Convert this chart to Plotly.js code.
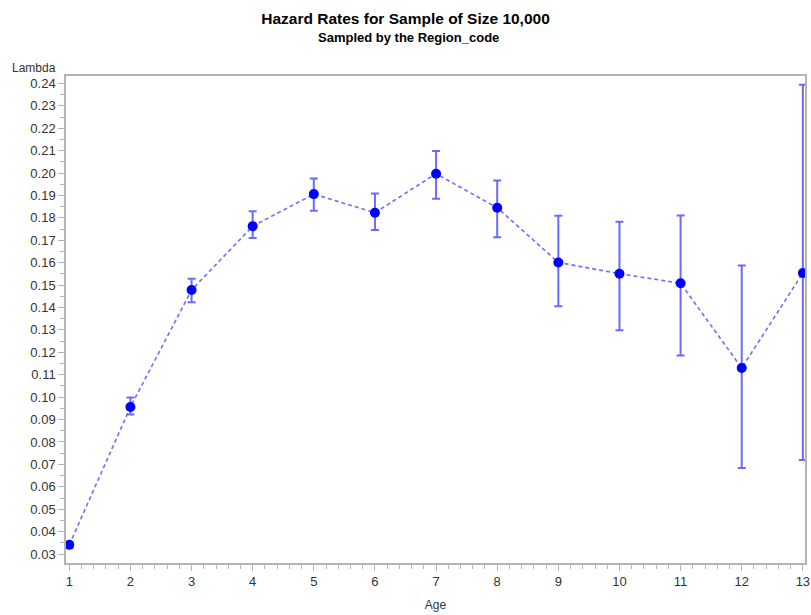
<!DOCTYPE html>
<html>
<head>
<meta charset="utf-8">
<script src="https://cdn.plot.ly/plotly-3.0.1.min.js"></script>
<style>html,body{margin:0;padding:0;background:#fff;}#chart{width:811px;height:615px;}</style>
</head>
<body>
<div id="chart"></div>
<script>
const ages = [1, 2, 3, 4, 5, 6, 7, 8, 9, 10, 11, 12, 13];
const lambda = [0.0341, 0.0956, 0.1478, 0.1763, 0.1906, 0.1823, 0.1997, 0.1845, 0.1601, 0.1551, 0.1508, 0.1130, 0.1554];
const upperCL = [0.0354, 0.0999, 0.1528, 0.1829, 0.1976, 0.1909, 0.2098, 0.1967, 0.1809, 0.1783, 0.1810, 0.1587, 0.2394];
const lowerCL = [0.0327, 0.0923, 0.1423, 0.1710, 0.1832, 0.1746, 0.1885, 0.1713, 0.1406, 0.1299, 0.1186, 0.0684, 0.0720];
const yTickVals = [0.03,0.04,0.05,0.06,0.07,0.08,0.09,0.10,0.11,0.12,0.13,0.14,0.15,0.16,0.17,0.18,0.19,0.20,0.21,0.22,0.23,0.24];

const errPlus = upperCL.map((u, i) => u - lambda[i]);
const errMinus = lambda.map((v, i) => v - lowerCL[i]);

const font = 'Arial, "Liberation Sans", sans-serif';
const axisGray = '#b4b4b4';

const trace = {
  x: ages,
  y: lambda,
  type: 'scatter',
  mode: 'lines+markers',
  line: {color: '#6f6fff', width: 1.6, dash: '4px,3px'},
  marker: {color: '#0000ff', size: 10},
  error_y: {
    type: 'data', symmetric: false,
    array: errPlus, arrayminus: errMinus,
    color: '#6a6aff', thickness: 2, width: 4
  },
  hoverinfo: 'x+y'
};

const layout = {
  width: 811, height: 615,
  margin: {l: 66, r: 6, t: 76, b: 52},
  paper_bgcolor: '#ffffff', plot_bgcolor: '#ffffff',
  showlegend: false,
  font: {family: font, color: '#333333', size: 12},
  title: {
    text: '<b>Hazard Rates for Sample of Size 10,000</b>',
    font: {family: font, size: 15.5, color: '#000000'},
    x: 0.5, xref: 'container', xanchor: 'center',
    y: 1 - 19/615, yref: 'container', yanchor: 'middle'
  },
  annotations: [
    {text: '<b>Sampled by the Region_code</b>', showarrow: false,
     xref: 'paper', yref: 'paper', x: (408-66)/739, y: (563-37)/487,
     xanchor: 'center', yanchor: 'middle',
     font: {family: font, size: 13, color: '#000000'}},
    {text: 'Lambda', showarrow: false,
     xref: 'paper', yref: 'paper', x: (58-66)/739, y: (563-68)/487,
     xanchor: 'right', yanchor: 'middle',
     font: {family: font, size: 12, color: '#333333'}}
  ],
  xaxis: {
    range: [0.946, 13.035],
    tickmode: 'array', tickvals: ages, ticktext: ages.map(String),
    ticks: 'outside', ticklen: 6, tickwidth: 1, tickcolor: axisGray,
    ticklabeloverflow: 'allow',
    minor: {dtick: 0.2, tick0: 1, ticks: 'outside', ticklen: 4, tickcolor: axisGray, showgrid: false},
    showline: true, linecolor: axisGray, linewidth: 1.5, mirror: true,
    showgrid: false, zeroline: false,
    tickfont: {family: font, size: 13, color: '#333333'},
    title: {text: 'Age', font: {family: font, size: 12, color: '#333333'}, standoff: 12}
  },
  yaxis: {
    range: [0.026, 0.2433],
    tickmode: 'array', tickvals: yTickVals, ticktext: yTickVals.map(v => v.toFixed(2)),
    ticks: 'outside', ticklen: 6, tickwidth: 1, tickcolor: axisGray,
    minor: {dtick: 0.005, tick0: 0, ticks: 'outside', ticklen: 4, tickcolor: axisGray, showgrid: false},
    showline: true, linecolor: axisGray, linewidth: 1.5, mirror: true,
    showgrid: false, zeroline: false,
    tickfont: {family: font, size: 13, color: '#333333'}
  }
};

Plotly.newPlot('chart', [trace], layout, {displayModeBar: false, staticPlot: false});
</script>
</body>
</html>
